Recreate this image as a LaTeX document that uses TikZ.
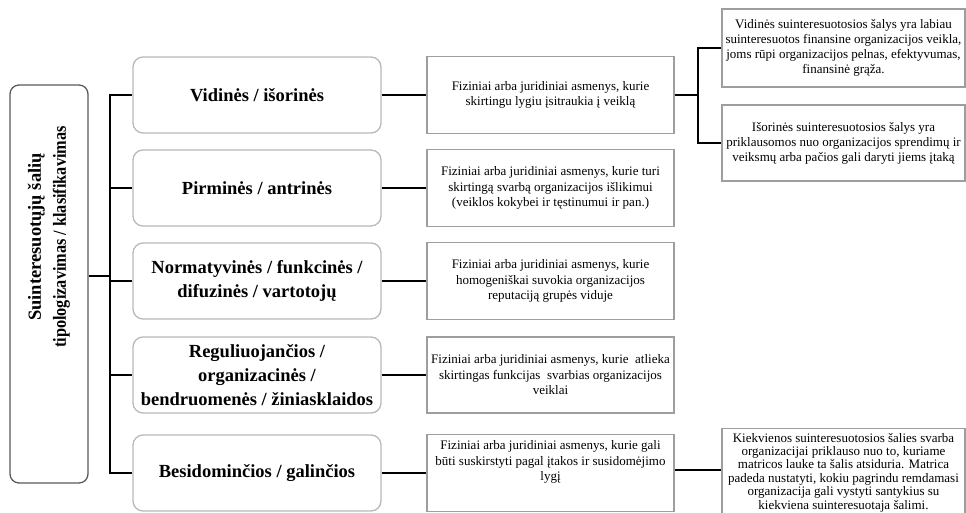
\documentclass[tikz,border=0pt]{standalone}
\usepackage{fontspec}
\setmainfont{Liberation Serif}
\begin{document}
\begin{tikzpicture}[x=1pt,y=-1pt,
  rootbox/.style={draw=black!65, line width=1.3pt, rounded corners=9pt,
    minimum width=78pt, minimum height=398pt, inner sep=0pt},
  roottext/.style={rotate=90, align=center, inner sep=0pt,
    font=\fontsize{18.5}{25}\selectfont\bfseries},
  catbox/.style={draw=black!28, line width=1.3pt, rounded corners=10pt,
    minimum width=248pt, minimum height=76pt, inner xsep=2pt, align=center,
    font=\fontsize{18.5}{24}\selectfont\bfseries},
  descbox/.style={draw=black!38, line width=1.3pt, minimum width=247pt,
    minimum height=77pt, inner xsep=2pt, align=center,
    font=\fontsize{13}{15.5}\selectfont},
  notebox/.style={draw=black!38, line width=1.3pt, minimum width=243pt,
    inner xsep=1pt, align=center, font=\fontsize{13}{15}\selectfont},
  link/.style={draw=black, line width=1.4pt},
]
\useasboundingbox (0,0) rectangle (966,513);
\clip (0,0) rectangle (966,513);

% classification root
\node[rootbox] (root) at (49,284) {};
\node[roottext] (rootlabel) at (49,237)
  {Suinteresuotųjų šalių\\\scalebox{0.88}[1]{tipologizavimas / klasifikavimas}};

% stakeholder groups
\node[catbox] (c1) at (257,95)  {Vidinės / išorinės};
\node[catbox] (c2) at (257,188) {Pirminės / antrinės};
\node[catbox] (c3) at (257,281) {Normatyvinės / funkcinės /\\difuzinės / vartotojų};
\node[catbox] (c4) at (257,375) {Reguliuojančios /\\organizacinės /\\bendruomenės / žiniasklaidos};
\node[catbox] (c5) at (257,473) {Besidominčios / galinčios};

% definitions of each group
\node[descbox] (d1) at (550.5,95)
  {Fiziniai arba juridiniai asmenys, kurie\\skirtingu lygiu įsitraukia į veiklą};
\node[descbox] (d2) at (550.5,188)
  {Fiziniai arba juridiniai asmenys, kurie turi\\skirtingą svarbą organizacijos išlikimui\\(veiklos kokybei ir tęstinumui ir pan.)};
\node[descbox] (d3) at (550.5,281)
  {Fiziniai arba juridiniai asmenys, kurie\\homogeniškai suvokia organizacijos\\reputaciją grupės viduje};
\node[descbox, minimum height=76pt] (d4) at (550.5,375)
  {Fiziniai arba juridiniai asmenys, kurie\ \ atlieka\\skirtingas funkcijas\ \ svarbias organizacijos\\veiklai};
\node[descbox] (d5) at (550.5,473)
  {Fiziniai arba juridiniai asmenys, kurie gali\\būti suskirstyti pagal įtakos ir susidomėjimo\\lygį\\[9pt]};

% further notes
\node[notebox, minimum height=78pt] (r1) at (843.5,48)
  {Vidinės suinteresuotosios šalys yra labiau\\suinteresuotos finansine organizacijos veikla,\\joms rūpi organizacijos pelnas, efektyvumas,\\finansinė grąža.};
\node[notebox, minimum height=76pt] (r2) at (843.5,143)
  {Išorinės suinteresuotosios šalys yra\\priklausomos nuo organizacijos sprendimų ir\\veiksmų arba pačios gali daryti jiems įtaką};
\node[notebox, anchor=north, inner ysep=4.5pt,
  font=\fontsize{13}{13.4}\selectfont, text depth=20pt] (r3) at (843.5,428)
  {Kiekvienos suinteresuotosios šalies svarba\\organizacijai priklauso nuo to, kuriame\\matricos lauke ta šalis atsiduria. Matrica\\padeda nustatyti, kokiu pagrindu remdamasi\\organizacija gali vystyti santykius su\\kiekviena suinteresuotaja šalimi.};

% root to groups
\coordinate (hub) at (110,276);
\draw[link] (root.east |- hub) -- (hub);
\draw[link] (c1.west) -- (c1.west -| hub) -- (c5.west -| hub) -- (c5.west);
\foreach \k in {2,3,4}
  \draw[link] (c\k.west -| hub) -- (c\k.west);

% groups to definitions
\foreach \k in {1,...,5}
  \draw[link] (c\k.east) -- (c\k.east -| d\k.west);

% definitions to notes
\coordinate (fork) at (698,95);
\draw[link] (d1.east) -- (fork);
\draw[link] (r1.west) -| (fork) |- (r2.west);
\draw[link] (d5.east |- 0,470) -- (r3.west |- 0,470);
\end{tikzpicture}
\end{document}
